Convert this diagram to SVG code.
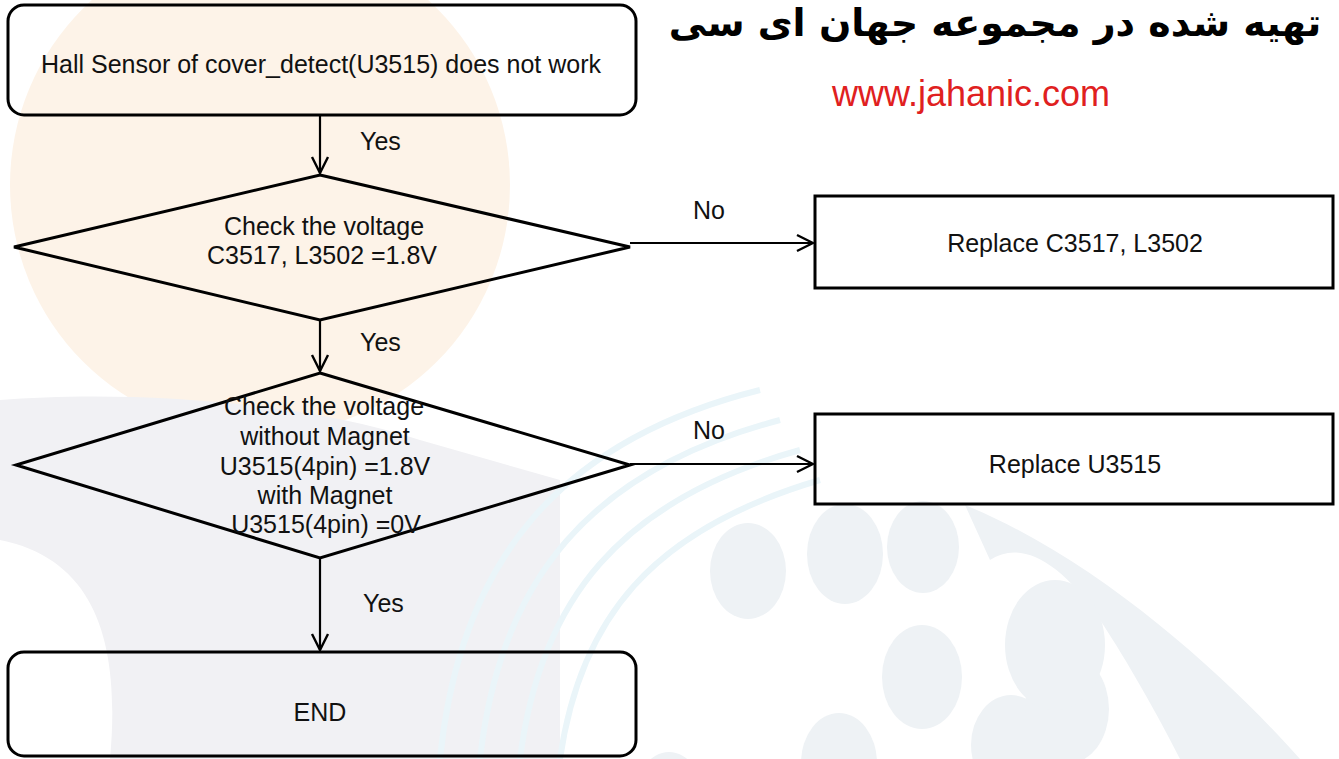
<svg xmlns="http://www.w3.org/2000/svg" width="1339" height="759" viewBox="0 0 1339 759">
<style>
.t{font-family:"Liberation Sans",Arial,sans-serif;font-size:25px;fill:#111;}
.c{text-anchor:middle;}
.shape{fill:none;stroke:#000;stroke-width:3;}
.conn{fill:none;stroke:#000;stroke-width:2.2;}
</style>
<defs>
<marker id="arr" viewBox="0 0 20 20" refX="18" refY="10" markerWidth="20" markerHeight="20" markerUnits="userSpaceOnUse" orient="auto">
<path d="M2,2 L18,10 L2,18" fill="none" stroke="#000" stroke-width="2.4"/>
</marker>
</defs>
<rect width="1339" height="759" fill="#fff"/>
<g id="watermark">
<circle cx="260" cy="185" r="250" fill="#fdf3e8"/>
<path d="M0,400 C120,390 300,400 420,440 L560,480 L560,759 L110,759 C120,650 100,560 0,540 Z" fill="#f1f1f4"/>
<g fill="none" stroke="#eaf5f9" stroke-width="6">
<path d="M440,759 C460,560 560,440 760,390"/>
<path d="M480,759 C500,580 590,470 780,420"/>
<path d="M520,759 C540,600 620,500 800,450"/>
<path d="M560,759 C580,620 650,530 820,480"/>
</g>
<g fill="#eef2f5">
<ellipse cx="748" cy="571" rx="38" ry="48"/>
<ellipse cx="845" cy="554" rx="38" ry="50"/>
<ellipse cx="923" cy="547" rx="36" ry="46"/>
<ellipse cx="922" cy="677" rx="40" ry="52"/>
<ellipse cx="1011" cy="745" rx="40" ry="50"/>
<ellipse cx="839" cy="763" rx="38" ry="50"/>
<ellipse cx="1067" cy="709" rx="42" ry="55"/>
<ellipse cx="669" cy="800" rx="35" ry="48"/>
<path d="M965,505 C1100,560 1230,680 1300,759 L1180,759 C1150,700 1120,650 1100,620 C1060,560 1020,540 990,560 Z"/>
<ellipse cx="1055" cy="645" rx="50" ry="65"/>
</g>
</g>
<text x="995" y="36" text-anchor="middle" font-family="DejaVu Sans, sans-serif" font-size="38" font-weight="bold" fill="#000" direction="rtl">تهیه شده در مجموعه جهان ای سی</text>
<text x="971" y="106" text-anchor="middle" font-family="Liberation Sans, Arial, sans-serif" font-size="36" fill="#e02020">www.jahanic.com</text>
<g id="connectors">
<line class="conn" x1="320" y1="115" x2="320" y2="173" marker-end="url(#arr)"/>
<line class="conn" x1="320" y1="320" x2="320" y2="371" marker-end="url(#arr)"/>
<line class="conn" x1="320" y1="558" x2="320" y2="650" marker-end="url(#arr)"/>
<line class="conn" x1="630" y1="243" x2="813" y2="243" marker-end="url(#arr)"/>
<line class="conn" x1="630" y1="464" x2="813" y2="464" marker-end="url(#arr)"/>
<text class="t" x="360" y="150">Yes</text>
<text class="t" x="360" y="351">Yes</text>
<text class="t" x="363" y="612">Yes</text>
<text class="t" x="693" y="219">No</text>
<text class="t" x="693" y="439">No</text>
</g>
<g id="start">
<rect class="shape" x="8" y="5" width="628" height="110" rx="16"/>
<text class="t c" x="321" y="73">Hall Sensor of cover_detect(U3515) does not work</text>
</g>
<g id="check1">
<polygon class="shape" points="320,175 630,247 320,320 14,247"/>
<text class="t c" x="324" y="235">Check the voltage</text>
<text class="t c" x="322" y="264">C3517, L3502 =1.8V</text>
</g>
<g id="check2">
<polygon class="shape" points="320,373 630,465 320,558 16,465"/>
<text class="t c" x="324" y="415">Check the voltage</text>
<text class="t c" x="325" y="445">without Magnet</text>
<text class="t c" x="325" y="475">U3515(4pin) =1.8V</text>
<text class="t c" x="325" y="504">with Magnet</text>
<text class="t c" x="326" y="533">U3515(4pin) =0V</text>
</g>
<g id="replace1">
<rect class="shape" x="815" y="196" width="518" height="92"/>
<text class="t c" x="1075" y="252">Replace C3517, L3502</text>
</g>
<g id="replace2">
<rect class="shape" x="815" y="414" width="518" height="90"/>
<text class="t c" x="1075" y="473">Replace U3515</text>
</g>
<g id="end">
<rect class="shape" x="8" y="652" width="628" height="104" rx="16"/>
<text class="t c" x="320" y="721">END</text>
</g>
</svg>
